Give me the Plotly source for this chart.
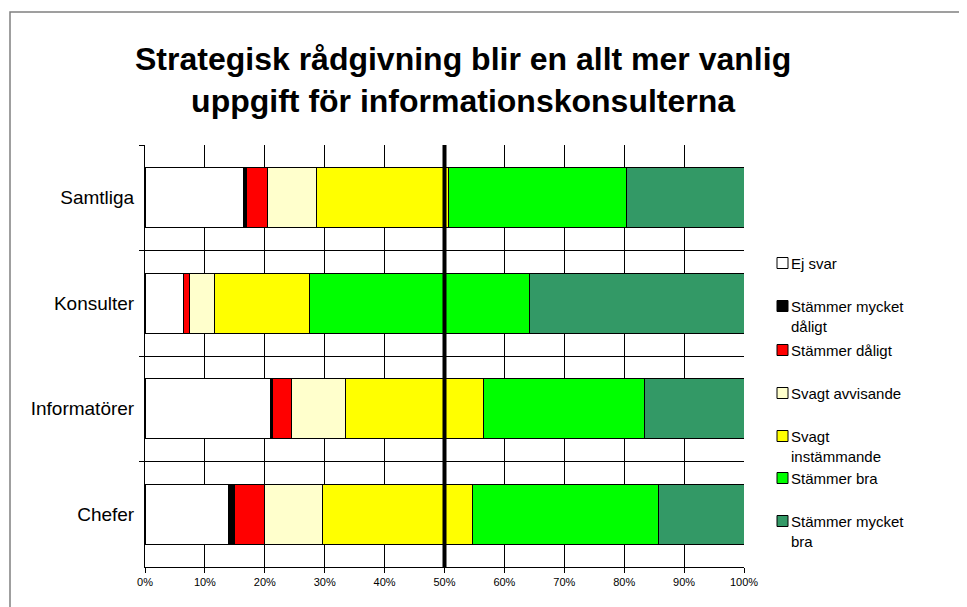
import plotly.graph_objects as go

categories = ["Samtliga", "Konsulter", "Informatörer", "Chefer"]
series_names = ["Ej svar", "Stämmer mycket<br>dåligt", "Stämmer dåligt", "Svagt avvisande",
                "Svagt<br>instämmande", "Stämmer bra", "Stämmer mycket<br>bra"]
colors = ["#FFFFFF", "#000000", "#FF0000", "#FFFFCC", "#FFFF00", "#00FF00", "#339966"]

ej_svar = [16.5, 6.4, 21.0, 13.9]
mycket_daligt = [0.5, 0.1, 0.3, 1.1]
daligt = [3.6, 0.9, 3.1, 5.0]
svagt_avvisande = [8.2, 4.2, 9.1, 9.7]
svagt_instammande = [22.2, 15.9, 23.1, 24.9]
stammer_bra = [29.8, 36.8, 26.9, 31.1]
mycket_bra = [19.7, 35.8, 16.6, 14.3]
values = [ej_svar, mycket_daligt, daligt, svagt_avvisande, svagt_instammande, stammer_bra, mycket_bra]

x_ticks = list(range(0, 101, 10))
x_ticktext = [f"{v}%" for v in x_ticks]
title_text = "Strategisk rådgivning blir en allt mer vanlig<br>uppgift för informationskonsulterna"

# page has an 8px body margin; work in screen pixels and convert
OFF = 8
W, H = 967 - OFF, 607 - OFF
L, R, T, B = 145 - OFF, 967 - 744, 145 - OFF, 607 - 567
PW, PH = W - L - R, H - T - B

def px_x(p):
    return (p - OFF - L) / PW

def px_y(p):
    return (H - B - (p - OFF)) / PH

FONT = "Arial, Liberation Sans, sans-serif"

fig = go.Figure()
for name, vals, col in zip(series_names, values, colors):
    fig.add_trace(go.Bar(
        y=categories, x=vals, name=name.replace("<br>", " "), orientation="h",
        marker=dict(color=col, line=dict(color="#000000", width=1)),
        showlegend=False, hoverinfo="x+y+name",
    ))

shapes = []
shapes.append(dict(type="line", xref="x", yref="paper", x0=50, x1=50, y0=0, y1=1,
                   line=dict(color="#000000", width=4), layer="above"))
shapes.append(dict(type="rect", xref="paper", yref="paper",
                   x0=px_x(10), x1=px_x(1200), y0=px_y(900), y1=px_y(12),
                   line=dict(color="#808080", width=1.5), fillcolor="rgba(0,0,0,0)", layer="below"))

annotations = []
legend_y = [263, 306, 350, 393, 436, 478, 521]
for name, col, yc in zip(series_names, colors, legend_y):
    shapes.append(dict(type="rect", xref="paper", yref="paper",
                       x0=px_x(777), x1=px_x(788), y0=px_y(yc + 5.5), y1=px_y(yc - 5.5),
                       fillcolor=col, line=dict(color="#000000", width=1)))
    annotations.append(dict(xref="paper", yref="paper", x=px_x(789), y=px_y(yc - 10),
                            xanchor="left", yanchor="top", align="left", showarrow=False,
                            text=name, font=dict(family=FONT, size=15, color="#000000")))

annotations.append(dict(xref="paper", yref="paper", x=px_x(463), y=px_y(80),
                        xanchor="center", yanchor="middle", align="center", showarrow=False,
                        text="<b>" + title_text + "</b>",
                        font=dict(family=FONT, size=32, color="#000000")))

fig.update_layout(
    width=W, height=H,
    margin=dict(l=L, r=R, t=T, b=B, pad=0),
    paper_bgcolor="#FFFFFF", plot_bgcolor="#FFFFFF",
    barmode="stack", barnorm="percent", bargap=0.43,
    font=dict(family=FONT, color="#000000"),
    shapes=shapes, annotations=annotations,
    xaxis=dict(range=[0, 100], tickvals=x_ticks, ticktext=x_ticktext,
               showgrid=True, gridcolor="#000000", gridwidth=1,
               showline=True, linecolor="#000000", linewidth=1, mirror=False,
               ticks="outside", ticklen=5, tickcolor="#000000",
               tickfont=dict(family=FONT, size=11, color="#000000"), zeroline=False, fixedrange=True),
    yaxis=dict(autorange="reversed", type="category", tickson="boundaries",
               showgrid=True, gridcolor="#000000", gridwidth=1,
               showline=True, linecolor="#000000", linewidth=1,
               ticks="outside", ticklen=5, tickcolor="#000000",
               tickfont=dict(family=FONT, size=19, color="#000000"), ticklabelstandoff=6),
)

fig.write_html("out.html")
